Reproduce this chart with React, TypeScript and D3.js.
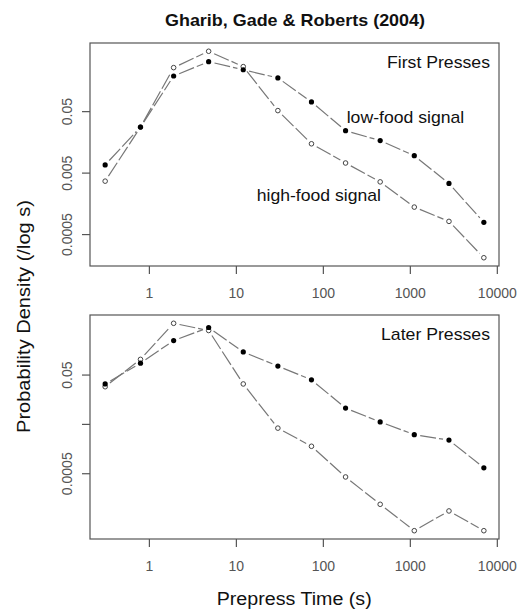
import React from "react";
import * as d3 from "d3";

const times = [0.31, 0.79, 1.9, 4.8, 12, 30, 73, 180, 450, 1110, 2780, 7000];
const firstLow = [0.0068, 0.028, 0.19, 0.325, 0.24, 0.177, 0.072, 0.0245, 0.0169, 0.0096, 0.0034, 0.00079];
const firstHigh = [0.0037, 0.028, 0.26, 0.48, 0.27, 0.052, 0.015, 0.0073, 0.0036, 0.0014, 0.00082, 0.00021];
const laterLow = [0.033, 0.087, 0.25, 0.46, 0.147, 0.076, 0.04, 0.0107, 0.0056, 0.0031, 0.0024, 0.00066];
const laterHigh = [0.029, 0.104, 0.56, 0.4, 0.033, 0.0042, 0.0018, 0.00043, 0.00012, 0.000035, 0.000088, 0.000035];

const xTicks = [1, 10, 100, 1000, 10000];
const xTickLabels = ["1", "10", "100", "1000", "10000"];
const yTicks = [0.05, 0.005, 0.0005];
const firstYLabels = ["0.05", "0.005", "0.0005"];
const laterYLabels = ["0.05", "", "0.0005"];

const FONT = "'Liberation Sans', Arial, Helvetica, sans-serif";
const LEFT = 90;
const RIGHT = 499;

function paddedLogDomain(values: number[]): [number, number] {
  const lo = Math.log10(d3.min(values) as number);
  const hi = Math.log10(d3.max(values) as number);
  const pad = (hi - lo) * 0.04;
  return [Math.pow(10, lo - pad), Math.pow(10, hi + pad)];
}

function Series({ xs, ys, x, y, filled }: any) {
  const pts = xs.map((t: number, i: number) => [x(t), y(ys[i])]);
  const gap = 6;
  const segs = [] as any[];
  for (let i = 0; i < pts.length - 1; i++) {
    const [x1, y1] = pts[i];
    const [x2, y2] = pts[i + 1];
    const dx = x2 - x1, dy = y2 - y1;
    const len = Math.sqrt(dx * dx + dy * dy);
    if (len <= 2 * gap) continue;
    const ux = dx / len, uy = dy / len;
    segs.push(
      <line key={i} x1={x1 + ux * gap} y1={y1 + uy * gap} x2={x2 - ux * gap} y2={y2 - uy * gap}
        stroke="#777" strokeWidth={1.2} strokeDasharray="16,3" />
    );
  }
  return (
    <g>
      {segs}
      {pts.map((p: number[], i: number) =>
        filled ? (
          <circle key={"p" + i} cx={p[0]} cy={p[1]} r={2.6} fill="#000" />
        ) : (
          <circle key={"p" + i} cx={p[0]} cy={p[1]} r={2.3} fill="#fff" stroke="#444" strokeWidth={1} />
        )
      )}
    </g>
  );
}

function Panel({ top, bottom, low, high, yLabels, label, labelWidth }: any) {
  const x = d3.scaleLog().domain(paddedLogDomain(times)).range([LEFT, RIGHT]);
  const y = d3.scaleLog().domain(paddedLogDomain([...low, ...high])).range([bottom, top]);
  return (
    <g>
      <Series xs={times} ys={high} x={x} y={y} filled={false} />
      <Series xs={times} ys={low} x={x} y={y} filled={true} />
      <rect x={LEFT} y={top} width={RIGHT - LEFT} height={bottom - top} fill="none" stroke="#555" strokeWidth={1.2} />
      {xTicks.map((t, i) => (
        <g key={t}>
          <line x1={x(t)} x2={x(t)} y1={bottom} y2={bottom + 8} stroke="#555" strokeWidth={1.2} />
          <text x={x(t)} y={bottom + 32} textAnchor="middle" fontSize={14} fill="#555" fontFamily={FONT}>
            {xTickLabels[i]}
          </text>
        </g>
      ))}
      {yTicks.map((t, i) => (
        <g key={t}>
          <line x1={LEFT - 8} x2={LEFT} y1={y(t)} y2={y(t)} stroke="#555" strokeWidth={1.2} />
          {yLabels[i] && (
            <text transform={`translate(72,${y(t)}) rotate(-90)`} textAnchor="middle" fontSize={14} fill="#555" fontFamily={FONT}>
              {yLabels[i]}
            </text>
          )}
        </g>
      ))}
      <text x={490 - labelWidth} y={top + 25} fontSize={17} fill="#111" fontFamily={FONT}
        textLength={labelWidth} lengthAdjust="spacingAndGlyphs">
        {label}
      </text>
    </g>
  );
}

export default function App() {
  return (
    <svg width={520} height={610} style={{ position: "absolute", left: 0, top: 0, background: "#fff" }}>
      <rect width={520} height={610} fill="#fff" />
      <text x={165} y={26} fontSize={17} fontWeight="bold" fill="#111" fontFamily={FONT}
        textLength={260} lengthAdjust="spacingAndGlyphs">
        Gharib, Gade &amp; Roberts (2004)
      </text>
      <Panel top={43} bottom={266} low={firstLow} high={firstHigh} yLabels={firstYLabels}
        label="First Presses" labelWidth={103} />
      <text x={346.7} y={123} fontSize={17} fill="#111" fontFamily={FONT} textLength={117.6} lengthAdjust="spacingAndGlyphs">
        low-food signal
      </text>
      <text x={256.7} y={201} fontSize={17} fill="#111" fontFamily={FONT} textLength={124.3} lengthAdjust="spacingAndGlyphs">
        high-food signal
      </text>
      <Panel top={315} bottom={539} low={laterLow} high={laterHigh} yLabels={laterYLabels}
        label="Later Presses" labelWidth={109} />
      <text x={216.7} y={605} fontSize={18} fill="#111" fontFamily={FONT} textLength={155} lengthAdjust="spacingAndGlyphs">
        Prepress Time (s)
      </text>
      <text transform="translate(30,433) rotate(-90)" fontSize={18} fill="#111" fontFamily={FONT}
        textLength={233} lengthAdjust="spacingAndGlyphs">
        Probability Density (/log s)
      </text>
    </svg>
  );
}
